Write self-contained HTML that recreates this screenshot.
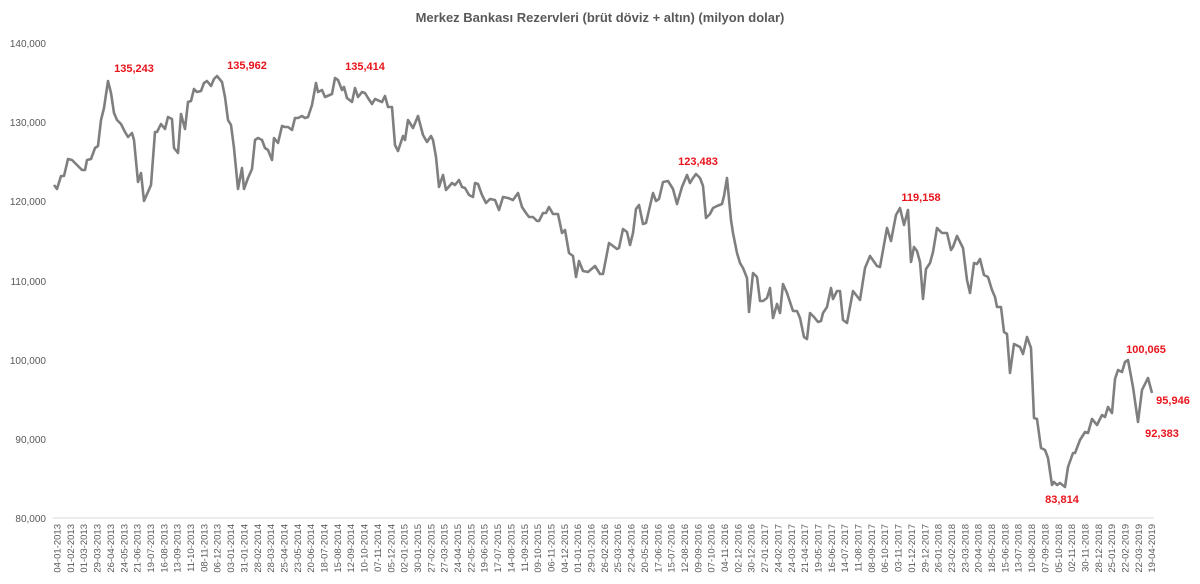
<!DOCTYPE html>
<html><head><meta charset="utf-8"><style>
html,body{margin:0;padding:0;background:#fff;}
svg{display:block;font-family:"Liberation Sans",sans-serif;}
.y{font-size:10px;fill:#595959;text-anchor:end;}
.x{font-size:9.5px;fill:#595959;text-anchor:end;}
.r{font-size:11px;fill:#e8141c;font-weight:bold;text-anchor:middle;}
</style></head><body>
<svg width="1200" height="584" viewBox="0 0 1200 584">
<text x="600" y="22" text-anchor="middle" font-size="13" font-weight="bold" fill="#595959">Merkez Bankası Rezervleri (brüt döviz + altın) (milyon dolar)</text>
<g class="y">
<text x="46" y="47">140,000</text>
<text x="46" y="126">130,000</text>
<text x="46" y="205">120,000</text>
<text x="46" y="285">110,000</text>
<text x="46" y="364">100,000</text>
<text x="46" y="443">90,000</text>
<text x="46" y="522">80,000</text>
</g>
<line x1="53" y1="518" x2="1154" y2="518" stroke="#d9d9d9" stroke-width="1"/>
<polyline fill="none" stroke="#7f7f7f" stroke-width="2.6" stroke-linejoin="round" points="
54,185 57,189 61,176 64,176 68,159 72,160 82,170 85,170 87,160 91,159 95,148 98,146 101,120 104,108 108,81 111,93 114,113 117,120 121,124 125,132 128,137 132,133 134,140 138,182 141,173 144,201 151,185 155,132 157,132 161,124 165,129 168,117 172,119 174,148 178,153 181,114 185,129 188,102 191,101 194,89 197,92 201,91 204,83 207,81 211,86 214,79 217,76 222,82 225,97 228,120 231,125 234,148 238,189 242,168 244,189 248,178 252,169 255,140 258,138 262,140 265,148 268,150 272,160 274,138 278,143 282,126 285,127 288,127 292,130 295,118 298,118 302,116 305,118 308,117 312,105 316,83 318,92 322,90 325,97 332,94 335,78 338,80 342,90 344,87 347,98 352,102 355,88 358,97 362,92 365,93 368,98 372,104 375,99 382,102 385,96 388,107 392,107 395,145 398,151 403,136 405,140 408,120 413,128 418,116 423,135 427,142 431,136 433,140 436,157 439,187 443,175 446,190 452,183 455,185 459,180 462,187 465,188 469,195 473,197 475,183 478,184 482,195 486,203 490,199 495,200 499,210 503,197 508,198 513,200 518,193 522,207 526,213 529,217 533,217 537,221 539,221 543,213 546,213 549,207 553,214 558,214 562,233 565,230 569,253 573,256 576,277 579,261 583,271 588,272 595,266 600,274 603,274 609,243 613,246 617,249 619,248 623,229 627,232 630,245 633,233 636,209 639,205 643,224 646,223 653,193 656,201 659,199 663,182 668,181 673,189 677,204 682,187 687,175 690,183 693,178 696,174 700,178 703,186 706,218 710,214 713,208 717,206 722,204 724,196 727,178 731,220 733,233 737,253 740,263 743,268 747,278 749,312 753,273 757,277 760,301 763,301 767,298 770,288 773,318 777,304 780,313 783,284 787,293 793,311 797,311 800,318 804,337 807,339 810,313 814,317 818,322 821,321 823,313 827,307 831,288 833,299 837,291 840,291 843,320 847,323 853,291 860,300 865,268 870,256 877,266 880,267 887,228 891,241 896,215 900,208 904,225 908,210 911,262 914,247 917,251 920,262 923,299 926,269 930,263 933,252 937,228 942,233 947,233 951,250 953,247 957,236 963,248 967,280 970,293 974,263 977,264 980,259 984,275 988,277 992,290 995,297 997,307 1001,307 1004,332 1007,334 1010,373 1014,344 1020,347 1023,354 1027,337 1031,348 1034,418 1037,419 1041,448 1045,450 1048,458 1052,485 1054,482 1057,485 1060,483 1065,487 1068,467 1073,453 1075,453 1080,440 1085,432 1088,433 1092,419 1097,425 1102,415 1105,417 1108,407 1112,413 1115,379 1118,370 1122,372 1125,362 1128,360 1133,387 1138,422 1142,390 1148,378 1152,393"/>
<g class="r">
<text x="134" y="72">135,243</text>
<text x="247" y="69">135,962</text>
<text x="365" y="70">135,414</text>
<text x="698" y="165">123,483</text>
<text x="921" y="201">119,158</text>
<text x="1146" y="353">100,065</text>
<text x="1173" y="404">95,946</text>
<text x="1162" y="437">92,383</text>
<text x="1062" y="503">83,814</text>
</g>
<g class="x">
<text transform="translate(60.5,524) rotate(-90)">04-01-2013</text>
<text transform="translate(73.9,524) rotate(-90)">01-02-2013</text>
<text transform="translate(87.2,524) rotate(-90)">01-03-2013</text>
<text transform="translate(100.6,524) rotate(-90)">29-03-2013</text>
<text transform="translate(113.9,524) rotate(-90)">26-04-2013</text>
<text transform="translate(127.3,524) rotate(-90)">24-05-2013</text>
<text transform="translate(140.6,524) rotate(-90)">21-06-2013</text>
<text transform="translate(154.0,524) rotate(-90)">19-07-2013</text>
<text transform="translate(167.3,524) rotate(-90)">16-08-2013</text>
<text transform="translate(180.7,524) rotate(-90)">13-09-2013</text>
<text transform="translate(194.0,524) rotate(-90)">11-10-2013</text>
<text transform="translate(207.4,524) rotate(-90)">08-11-2013</text>
<text transform="translate(220.7,524) rotate(-90)">06-12-2013</text>
<text transform="translate(234.1,524) rotate(-90)">03-01-2014</text>
<text transform="translate(247.4,524) rotate(-90)">31-01-2014</text>
<text transform="translate(260.8,524) rotate(-90)">28-02-2014</text>
<text transform="translate(274.1,524) rotate(-90)">28-03-2014</text>
<text transform="translate(287.5,524) rotate(-90)">25-04-2014</text>
<text transform="translate(300.8,524) rotate(-90)">23-05-2014</text>
<text transform="translate(314.2,524) rotate(-90)">20-06-2014</text>
<text transform="translate(327.5,524) rotate(-90)">18-07-2014</text>
<text transform="translate(340.9,524) rotate(-90)">15-08-2014</text>
<text transform="translate(354.2,524) rotate(-90)">12-09-2014</text>
<text transform="translate(367.6,524) rotate(-90)">10-10-2014</text>
<text transform="translate(380.9,524) rotate(-90)">07-11-2014</text>
<text transform="translate(394.3,524) rotate(-90)">05-12-2014</text>
<text transform="translate(407.6,524) rotate(-90)">02-01-2015</text>
<text transform="translate(421.0,524) rotate(-90)">30-01-2015</text>
<text transform="translate(434.3,524) rotate(-90)">27-02-2015</text>
<text transform="translate(447.7,524) rotate(-90)">27-03-2015</text>
<text transform="translate(461.0,524) rotate(-90)">24-04-2015</text>
<text transform="translate(474.4,524) rotate(-90)">22-05-2015</text>
<text transform="translate(487.7,524) rotate(-90)">19-06-2015</text>
<text transform="translate(501.1,524) rotate(-90)">17-07-2015</text>
<text transform="translate(514.4,524) rotate(-90)">14-08-2015</text>
<text transform="translate(527.8,524) rotate(-90)">11-09-2015</text>
<text transform="translate(541.1,524) rotate(-90)">09-10-2015</text>
<text transform="translate(554.5,524) rotate(-90)">06-11-2015</text>
<text transform="translate(567.8,524) rotate(-90)">04-12-2015</text>
<text transform="translate(581.2,524) rotate(-90)">01-01-2016</text>
<text transform="translate(594.5,524) rotate(-90)">29-01-2016</text>
<text transform="translate(607.9,524) rotate(-90)">26-02-2016</text>
<text transform="translate(621.2,524) rotate(-90)">25-03-2016</text>
<text transform="translate(634.6,524) rotate(-90)">22-04-2016</text>
<text transform="translate(647.9,524) rotate(-90)">20-05-2016</text>
<text transform="translate(661.3,524) rotate(-90)">17-06-2016</text>
<text transform="translate(674.6,524) rotate(-90)">15-07-2016</text>
<text transform="translate(688.0,524) rotate(-90)">12-08-2016</text>
<text transform="translate(701.3,524) rotate(-90)">09-09-2016</text>
<text transform="translate(714.7,524) rotate(-90)">07-10-2016</text>
<text transform="translate(728.0,524) rotate(-90)">04-11-2016</text>
<text transform="translate(741.4,524) rotate(-90)">02-12-2016</text>
<text transform="translate(754.7,524) rotate(-90)">30-12-2016</text>
<text transform="translate(768.1,524) rotate(-90)">27-01-2017</text>
<text transform="translate(781.4,524) rotate(-90)">24-02-2017</text>
<text transform="translate(794.8,524) rotate(-90)">24-03-2017</text>
<text transform="translate(808.1,524) rotate(-90)">21-04-2017</text>
<text transform="translate(821.5,524) rotate(-90)">19-05-2017</text>
<text transform="translate(834.8,524) rotate(-90)">16-06-2017</text>
<text transform="translate(848.2,524) rotate(-90)">14-07-2017</text>
<text transform="translate(861.5,524) rotate(-90)">11-08-2017</text>
<text transform="translate(874.9,524) rotate(-90)">08-09-2017</text>
<text transform="translate(888.2,524) rotate(-90)">06-10-2017</text>
<text transform="translate(901.6,524) rotate(-90)">03-11-2017</text>
<text transform="translate(914.9,524) rotate(-90)">01-12-2017</text>
<text transform="translate(928.3,524) rotate(-90)">29-12-2017</text>
<text transform="translate(941.6,524) rotate(-90)">26-01-2018</text>
<text transform="translate(955.0,524) rotate(-90)">23-02-2018</text>
<text transform="translate(968.3,524) rotate(-90)">23-03-2018</text>
<text transform="translate(981.7,524) rotate(-90)">20-04-2018</text>
<text transform="translate(995.0,524) rotate(-90)">18-05-2018</text>
<text transform="translate(1008.4,524) rotate(-90)">15-06-2018</text>
<text transform="translate(1021.7,524) rotate(-90)">13-07-2018</text>
<text transform="translate(1035.1,524) rotate(-90)">10-08-2018</text>
<text transform="translate(1048.4,524) rotate(-90)">07-09-2018</text>
<text transform="translate(1061.8,524) rotate(-90)">05-10-2018</text>
<text transform="translate(1075.1,524) rotate(-90)">02-11-2018</text>
<text transform="translate(1088.5,524) rotate(-90)">30-11-2018</text>
<text transform="translate(1101.8,524) rotate(-90)">28-12-2018</text>
<text transform="translate(1115.2,524) rotate(-90)">25-01-2019</text>
<text transform="translate(1128.5,524) rotate(-90)">22-02-2019</text>
<text transform="translate(1141.9,524) rotate(-90)">22-03-2019</text>
<text transform="translate(1155.2,524) rotate(-90)">19-04-2019</text>
</g>
</svg>
</body></html>
